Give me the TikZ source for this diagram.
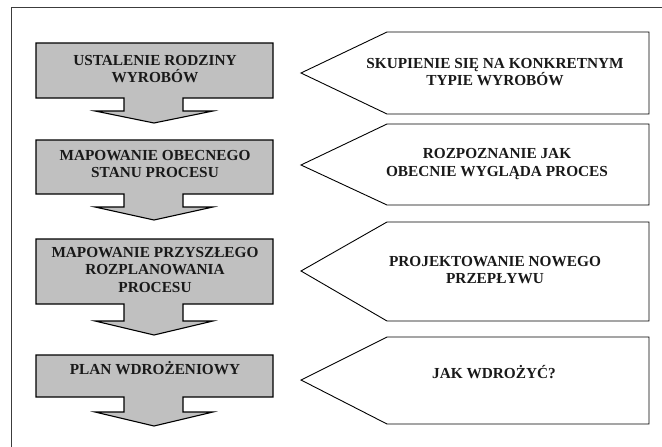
\documentclass[tikz,border=0pt]{standalone}
\usepackage{fontspec}
\setmainfont{Liberation Serif}
\definecolor{boxgray}{RGB}{192,192,192}
\definecolor{framegray}{RGB}{60,60,60}
\begin{document}
\begin{tikzpicture}[x=1pt,y=-1pt,
  graybox/.style={fill=boxgray,draw=black,line width=1.1pt,line join=miter},
  tagbox/.style={fill=white,draw=black,line width=0.9pt,line join=miter},
  lbl/.style={font=\fontsize{15.3}{17.5}\selectfont\bfseries,align=center,inner sep=0pt,text=black!90}]
\useasboundingbox (0,0) rectangle (662,447);
\fill[white] (0,0) rectangle (662,447);
% frame
\draw[framegray,line width=0.9pt] (11,447) -- (11,7) -- (662,7);
% gray arrow blocks
\foreach \t/\b/\s/\p in {43/98/111/123, 140/194/207/220, 239/304/321/335, 355/397/412/426}{
  \draw[graybox] (36,\t) -- (273,\t) -- (273,\b) -- (183,\b) -- (183,\s) -- (213,\s)
     -- (154,\p) -- (95,\s) -- (124,\s) -- (124,\b) -- (36,\b) -- cycle;
}
% pentagon tags
\foreach \t/\b/\m in {32/114/73, 124/205/165, 222/321/271, 337/424/380}{
  \draw[tagbox] (301,\m) -- (387,\t) -- (649,\t) -- (649,\b) -- (387,\b) -- cycle;
}
% left texts
\node[lbl] (l1) at (155,69) {USTALENIE RODZINY\\WYROBÓW};
\node[lbl] (l2) at (155,164) {MAPOWANIE OBECNEGO\\STANU PROCESU};
\node[lbl] (l3) at (155,270) {MAPOWANIE PRZYSZŁEGO\\ROZPLANOWANIA\\PROCESU};
\node[lbl] (l4) at (155,368) {PLAN WDROŻENIOWY};
% right texts
\node[lbl] (r1) at (495,72) {SKUPIENIE SIĘ NA KONKRETNYM\\TYPIE WYROBÓW};
\node[lbl] (r2) at (497,164) {ROZPOZNANIE JAK\\OBECNIE WYGLĄDA PROCES};
\node[lbl] (r3) at (495,270) {PROJEKTOWANIE NOWEGO\\PRZEPŁYWU};
\node[lbl] (r4) at (494,372) {JAK WDROŻYĆ?};
\end{tikzpicture}
\end{document}
